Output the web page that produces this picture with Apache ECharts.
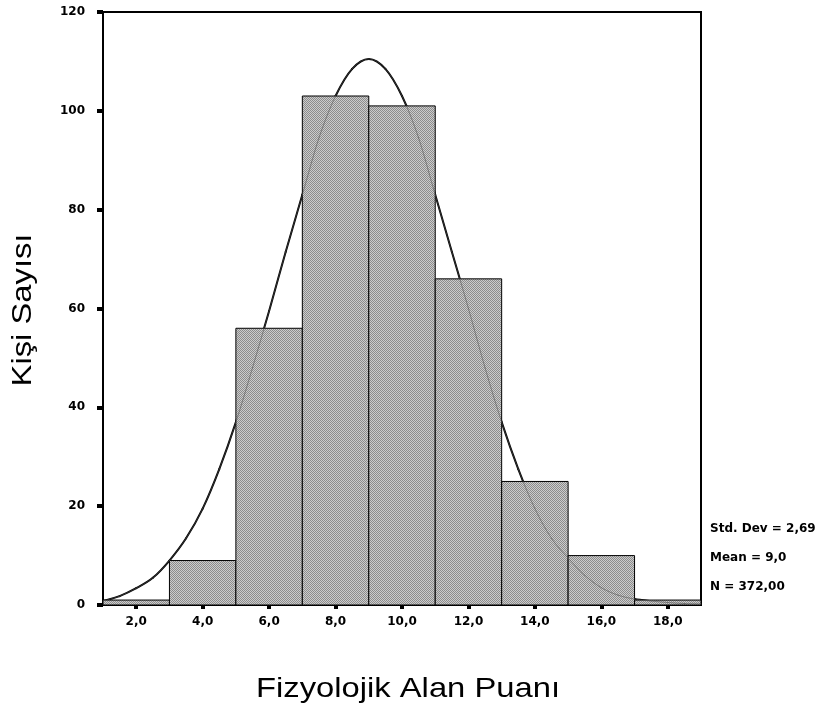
<!DOCTYPE html>
<html>
<head>
<meta charset="utf-8">
<script src="https://cdn.jsdelivr.net/npm/echarts@6/dist/echarts.min.js"></script>
<style>html,body{margin:0;padding:0;background:#fff;}#c{width:821px;height:713px;}</style>
</head>
<body>
<div id="c"></div>
<script>
// Histogram bins (lower edge, upper edge) and counts
const binStart = [1, 3, 5, 7, 9, 11, 13, 15, 17];
const binEnd   = [3, 5, 7, 9, 11, 13, 15, 17, 19];
const counts   = [1, 9, 56, 103, 101, 66, 25, 10, 1];
// Normal curve points
const curveX = [1,1.5,2,2.5,3,3.5,4,4.5,5,5.5,6,6.5,7,7.5,8,8.5,9,9.5,10,10.5,11,11.5,12,12.5,13,13.5,14,14.5,15,15.5,16,16.5,17,17.5,18,18.5,19];
const curveY = [0.8,1.8,3.4,5.5,9,13.5,19.5,27.5,37,48,59.5,71.5,83,94.5,103,108.5,110.5,108.5,103,94.5,83,71.5,60,48,37,27.5,19.5,13.5,9.5,6,3.5,2,1.2,0.8,0.5,0.3,0.2];
const xTicks = [2, 4, 6, 8, 10, 12, 14, 16, 18];
const statLines = ['Std. Dev = 2,69', 'Mean = 9,0', 'N = 372,00'];

// stipple pattern
const pc = document.createElement('canvas');
pc.width = 2; pc.height = 2;
const g = pc.getContext('2d');
g.fillStyle = '#cccccc'; g.fillRect(0, 0, 2, 2);
g.fillStyle = '#8c8c8c'; g.fillRect(0, 0, 1, 1); g.fillRect(1, 1, 1, 1);
const pattern = { image: pc, repeat: 'repeat' };

const binData = binStart.map((s, i) => [s, binEnd[i], counts[i]]);
const curveData = curveX.map((x, i) => [x, curveY[i]]);

// smooth curve segment (Catmull-Rom) from point i to i+1, coordinates via the axes
function curveSegment(stroke, width, opacity) {
  return function (params, api) {
    const i = params.dataIndex;
    if (i >= curveData.length - 1) return null;
    const P = k => api.coord(curveData[Math.max(0, Math.min(curveData.length - 1, k))]);
    const p0 = P(i - 1), p1 = P(i), p2 = P(i + 1), p3 = P(i + 2);
    return {
      type: 'bezierCurve',
      shape: {
        x1: p1[0], y1: p1[1], x2: p2[0], y2: p2[1],
        cpx1: p1[0] + (p2[0] - p0[0]) / 6, cpy1: p1[1] + (p2[1] - p0[1]) / 6,
        cpx2: p2[0] - (p3[0] - p1[0]) / 6, cpy2: p2[1] - (p3[1] - p1[1]) / 6
      },
      style: { stroke: stroke, lineWidth: width, fill: null, opacity: opacity, lineCap: 'round' }
    };
  };
}

const chart = echarts.init(document.getElementById('c'), null, { renderer: 'canvas' });
const labelFont = 'DejaVu Sans';
chart.setOption({
  animation: false,
  backgroundColor: '#fff',
  grid: { left: 103, right: 120, top: 12, bottom: 108, show: true, borderColor: '#000', borderWidth: 2, backgroundColor: 'transparent' },
  xAxis: {
    type: 'value', min: 1, max: 19, offset: 3,
    axisLine: { show: false },
    axisTick: { show: true, length: 4, lineStyle: { color: '#000', width: 4 }, customValues: xTicks },
    axisLabel: { customValues: xTicks, margin: 8, color: '#000', fontFamily: labelFont, fontWeight: 'bold', fontSize: 12,
      formatter: v => v.toFixed(1).replace('.', ',') },
    splitLine: { show: false }
  },
  yAxis: {
    type: 'value', min: 0, max: 120, interval: 20,
    axisLine: { show: false },
    axisTick: { show: true, length: 6, lineStyle: { color: '#000', width: 4 } },
    axisLabel: { margin: 18, color: '#000', fontFamily: labelFont, fontWeight: 'bold', fontSize: 12 },
    splitLine: { show: false }
  },
  graphic: [
    { type: 'text', x: 408, y: 689, scaleX: 1.17, z: 10,
      style: { text: 'Fizyolojik Alan Puanı', font: '28px "Liberation Sans", Arial, sans-serif', fill: '#000', textAlign: 'center', textVerticalAlign: 'middle' } },
    { type: 'text', x: 23, y: 310, rotation: Math.PI / 2, scaleX: 1.17, z: 10,
      style: { text: 'Kişi Sayısı', font: '28px "Liberation Sans", Arial, sans-serif', fill: '#000', textAlign: 'center', textVerticalAlign: 'middle' } },
    ...statLines.map((t, i) => ({ type: 'text', x: 710, y: 529 + i * 29, z: 10,
      style: { text: t, font: 'bold 12px "DejaVu Sans"', fill: '#000', textAlign: 'left', textVerticalAlign: 'middle' } }))
  ],
  series: [
    { type: 'custom', data: curveData, z: 2, renderItem: curveSegment('#000', 2, 1) },
    { type: 'custom', data: binData, z: 3,
      renderItem: function (params, api) {
        const p0 = api.coord([api.value(0), api.value(2)]);
        const p1 = api.coord([api.value(1), 0]);
        return { type: 'rect', shape: { x: p0[0], y: p0[1], width: p1[0] - p0[0], height: p1[1] - p0[1] },
          style: { fill: pattern, stroke: '#000', lineWidth: 1 } };
      }
    },
    { type: 'custom', data: curveData, z: 4, renderItem: curveSegment('#555', 0.8, 0.7) }
  ]
});
</script>
</body>
</html>
